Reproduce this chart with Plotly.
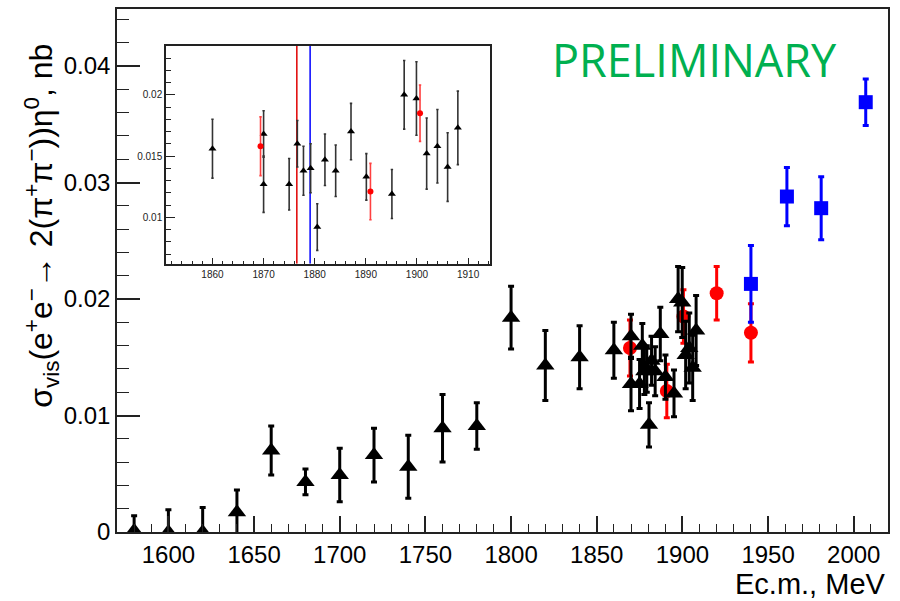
import plotly.graph_objects as go

# ---------------- data ----------------
black_x = [1580, 1600, 1620, 1640, 1660, 1680, 1700, 1720, 1740, 1760, 1780, 1800,
           1820, 1840, 1860, 1870, 1870, 1875, 1876.6, 1877.8, 1879.2, 1880.5, 1882,
           1884.1, 1887.1, 1890.1, 1895.1, 1897.5, 1899.9, 1901.9, 1904.0, 1906.0, 1908.0]
black_y = [0.0001, 0.0, 0.0, 0.0017, 0.0070, 0.0043, 0.0049, 0.0066, 0.0056, 0.0089, 0.0091, 0.0184,
           0.0143, 0.0150, 0.0156, 0.0168, 0.0127, 0.0127, 0.0160, 0.0138, 0.0140, 0.0092, 0.0147,
           0.0138, 0.0170, 0.0133, 0.0119, 0.0200, 0.0197, 0.0152, 0.0158, 0.0141, 0.0173]
black_err = [0.0013, 0.0019, 0.0021, 0.0019, 0.0021, 0.0011, 0.0023, 0.0023, 0.0027, 0.0029, 0.0020, 0.0027,
             0.0030, 0.0027, 0.0024, 0.0019, 0.0023, 0.0021, 0.0019, 0.0020, 0.0020, 0.0019, 0.0021,
             0.0021, 0.0023, 0.0019, 0.0020, 0.0028, 0.0030, 0.0029, 0.0030, 0.0028, 0.0030]

red_x = [1869.4, 1890.9, 1900.6, 1920, 1940]
red_y = [0.0158, 0.0121, 0.0185, 0.0205, 0.0171]
red_err = [0.0024, 0.0023, 0.0023, 0.0023, 0.0025]

blue_x = [1940, 1961, 1981, 2007]
blue_y = [0.0213, 0.0288, 0.0278, 0.0369]
blue_err = [0.0033, 0.0025, 0.0027, 0.0020]

thresholds = [1876.5, 1879.1]   # 2m_p (red), 2m_n (blue)
threshold_colors = ["#e00000", "#0000ff"]

inset_xrange = [1850.9, 1914.2]
inset_yrange = [0.0062, 0.0240]

FONT = "Liberation Sans, Arial, Helvetica, sans-serif"

fig = go.Figure()

# ---------------- main plot ----------------
fig.add_trace(go.Scatter(
    x=red_x, y=red_y, mode="markers",
    marker=dict(symbol="circle", size=14, color="#ff0000"),
    error_y=dict(type="data", array=red_err, color="#ff0000", thickness=3, width=3),
    xaxis="x", yaxis="y", showlegend=False))
fig.add_trace(go.Scatter(
    x=black_x, y=black_y, mode="markers",
    marker=dict(symbol="triangle-up", size=16, color="black"),
    error_y=dict(type="data", array=black_err, color="black", thickness=3, width=3),
    xaxis="x", yaxis="y", showlegend=False))
fig.add_trace(go.Scatter(
    x=blue_x, y=blue_y, mode="markers",
    marker=dict(symbol="square", size=14, color="#0000ff"),
    error_y=dict(type="data", array=blue_err, color="#0000ff", thickness=3, width=3),
    xaxis="x", yaxis="y", showlegend=False))

# ---------------- inset ----------------
def sel(xs, ys, es):
    out = [(a, b, c) for a, b, c in zip(xs, ys, es) if inset_xrange[0] <= a <= inset_xrange[1]]
    return [o[0] for o in out], [o[1] for o in out], [o[2] for o in out]

bx, by, be = sel(black_x, black_y, black_err)
rx, ry, re_ = sel(red_x, red_y, red_err)

for xv, col in zip(thresholds, threshold_colors):
    fig.add_trace(go.Scatter(
        x=[xv, xv], y=inset_yrange, mode="lines",
        line=dict(color=col, width=1.5),
        xaxis="x2", yaxis="y2", showlegend=False, hoverinfo="skip"))

fig.add_trace(go.Scatter(
    x=bx, y=by, mode="markers",
    marker=dict(symbol="triangle-up", size=7, color="black"),
    error_y=dict(type="data", array=be, color="#333333", thickness=1.6, width=1.2),
    xaxis="x2", yaxis="y2", showlegend=False))
fig.add_trace(go.Scatter(
    x=rx, y=ry, mode="markers",
    marker=dict(symbol="circle", size=6, color="#ff0000"),
    error_y=dict(type="data", array=re_, color="#ff4040", thickness=1.6, width=1.2),
    xaxis="x2", yaxis="y2", showlegend=False))

axis_common = dict(showline=True, linecolor="#222222", mirror=True, showgrid=False,
                   zeroline=False, ticks="inside", tickcolor="#222222")

fig.update_layout(
    width=900, height=601,
    margin=dict(l=117, r=12, t=7, b=69),
    paper_bgcolor="white", plot_bgcolor="white",
    font=dict(family=FONT, color="black"),
    xaxis=dict(range=[1570, 2020], domain=[0, 1], anchor="y",
               tick0=1600, dtick=50, ticklen=16, tickwidth=1.5, linewidth=1.5,
               minor=dict(ticks="inside", dtick=10, tick0=1600, ticklen=8, tickwidth=1.2,
                          tickcolor="#222222", showgrid=False),
               tickfont=dict(size=24, family=FONT), **axis_common),
    yaxis=dict(range=[0, 0.0449], domain=[0, 1], anchor="x",
               tick0=0, dtick=0.01, ticklen=23, tickwidth=1.5, linewidth=1.5,
               minor=dict(ticks="inside", dtick=0.002, tick0=0, ticklen=12, tickwidth=1.2,
                          tickcolor="#222222", showgrid=False),
               tickfont=dict(size=24, family=FONT), **axis_common),
    xaxis2=dict(range=inset_xrange, domain=[0.0635, 0.4832], anchor="y2",
                tick0=1860, dtick=10, ticklen=6, tickwidth=1, linewidth=1.5,
                minor=dict(ticks="inside", dtick=2, tick0=1860, ticklen=3, tickwidth=1,
                           tickcolor="#222222", showgrid=False),
                tickfont=dict(size=10, family=FONT, color="#222222"), **axis_common),
    yaxis2=dict(range=inset_yrange, domain=[0.5127, 0.9297], anchor="x2",
                tick0=0, dtick=0.005, ticklen=9, tickwidth=1, linewidth=1.5,
                minor=dict(ticks="inside", dtick=0.001, tick0=0, ticklen=5, tickwidth=1,
                           tickcolor="#222222", showgrid=False),
                tickfont=dict(size=10, family=FONT, color="#222222"), **axis_common),
)

# white background behind inset
fig.add_shape(type="rect", xref="paper", yref="paper", x0=0.0635, x1=0.4832,
              y0=0.5127, y1=0.9297, fillcolor="white", line=dict(width=0), layer="below")

fig.add_annotation(
    text="σ<sub>vis</sub>(e<sup>+</sup>e<sup>−</sup>→ 2(π<sup>+</sup>π<sup>−</sup>))η<sup>0</sup>, nb",
    xref="paper", yref="paper", x=-0.099, y=0.585, textangle=-90,
    xanchor="center", yanchor="middle", showarrow=False,
    font=dict(size=32, family=FONT, color="black"))
fig.add_annotation(
    text="Ec.m., MeV", xref="paper", yref="paper", x=1.0, y=-0.099,
    xanchor="right", yanchor="middle", showarrow=False,
    font=dict(size=29, family=FONT, color="black"))
fig.add_annotation(
    text="PRELIMINARY", xref="paper", yref="paper", x=(694 - 117) / 771, y=1 - (58 - 7) / 525,
    xanchor="center", yanchor="middle", showarrow=False,
    font=dict(size=45, family="Open Sans, sans-serif", color="#00b050"))

fig.write_html("out.html")
